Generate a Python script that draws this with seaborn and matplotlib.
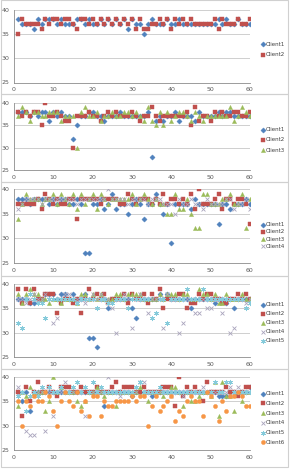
import numpy as np
import pandas as pd
import seaborn as sns
import matplotlib.pyplot as plt
from matplotlib.patches import Rectangle

sns.set_style("white")
plt.rcParams['font.family'] = ['DejaVu Sans']

X = list(range(1, 61))

P1_CLIENT1 = [38, 37, 37, 37, 36, 38, 37, 38, 38, 38, 37, 38, 37, 37, 37, 38, 38, 37, 38, 37,
              37, 38, 37, 38, 37, 38, 37, 38, 36, 38, 37, 37, 35, 37, 38, 37, 37, 37, 38, 37,
              37, 38, 37, 37, 37, 37, 37, 37, 37, 37, 37, 38, 37, 38, 37, 37, 38, 37, 37, 37]
P1_CLIENT2 = [35, 38, 37, 37, 37, 37, 36, 38, 37, 38, 38, 37, 38, 38, 37, 36, 38, 38, 37, 38,
              37, 38, 37, 38, 37, 38, 37, 38, 37, 38, 36, 38, 36, 36, 37, 37, 38, 37, 38, 36,
              38, 37, 38, 37, 38, 37, 37, 37, 37, 37, 38, 36, 38, 37, 37, 37, 38, 37, 37, 38]

P2_CLIENT1 = [38, 38, 38, 37, 38, 37, 38, 38, 36, 38, 37, 38, 37, 37, 32, 35, 37, 37, 38, 38,
              37, 37, 36, 37, 37, 37, 38, 37, 37, 37, 37, 37, 37, 38, 28, 36, 37, 36, 37, 37,
              38, 36, 37, 37, 37, 36, 38, 37, 37, 37, 37, 38, 37, 38, 38, 37, 37, 37, 37, 37]
P2_CLIENT2 = [38, 37, 38, 37, 38, 38, 35, 40, 37, 37, 38, 37, 36, 36, 30, 37, 37, 37, 38, 37,
              37, 36, 37, 38, 37, 38, 37, 37, 37, 38, 37, 36, 37, 37, 39, 37, 36, 37, 37, 37,
              37, 37, 37, 38, 35, 39, 36, 37, 37, 36, 38, 37, 38, 37, 37, 38, 38, 37, 37, 38]
P2_CLIENT3 = [37, 39, 38, 36, 38, 38, 37, 37, 38, 38, 38, 36, 37, 37, 37, 30, 38, 39, 37, 37,
              38, 36, 37, 37, 38, 37, 37, 38, 38, 37, 38, 37, 36, 39, 36, 35, 38, 35, 38, 36,
              37, 38, 38, 37, 36, 38, 37, 36, 37, 37, 37, 37, 37, 37, 39, 36, 37, 39, 38, 37]

P3_CLIENT1 = [38, 38, 38, 37, 38, 38, 38, 38, 37, 38, 37, 38, 38, 37, 37, 38, 37, 27, 27, 37,
              37, 38, 36, 37, 39, 36, 37, 37, 35, 37, 38, 37, 34, 37, 37, 39, 37, 35, 37, 29,
              37, 37, 37, 37, 36, 38, 37, 37, 37, 37, 37, 33, 37, 37, 36, 37, 37, 37, 38, 37]
P3_CLIENT2 = [37, 37, 37, 37, 37, 38, 36, 39, 38, 37, 38, 37, 37, 38, 38, 34, 38, 38, 38, 38,
              38, 37, 38, 38, 38, 38, 37, 37, 39, 38, 37, 38, 38, 38, 37, 38, 37, 39, 37, 38,
              38, 37, 38, 37, 39, 36, 40, 37, 37, 37, 38, 39, 36, 38, 38, 37, 38, 38, 37, 33]
P3_CLIENT3 = [34, 37, 39, 38, 38, 38, 37, 38, 38, 39, 37, 39, 38, 37, 39, 36, 39, 37, 38, 39,
              36, 39, 38, 37, 38, 38, 38, 38, 38, 39, 37, 38, 39, 38, 37, 38, 37, 37, 35, 35,
              39, 36, 36, 38, 35, 32, 32, 39, 39, 37, 37, 37, 38, 38, 39, 37, 37, 39, 32, 38]
P3_CLIENT4 = [36, 37, 38, 38, 38, 38, 37, 38, 38, 38, 38, 38, 38, 38, 38, 37, 38, 38, 38, 38,
              38, 38, 38, 40, 38, 38, 38, 38, 37, 38, 38, 38, 38, 37, 38, 38, 38, 37, 37, 37,
              35, 38, 37, 37, 38, 37, 37, 36, 38, 37, 37, 37, 37, 38, 38, 36, 37, 37, 38, 36]

P4_CLIENT1 = [37, 37, 37, 36, 36, 37, 37, 38, 38, 38, 37, 38, 38, 37, 38, 37, 37, 38, 29, 29,
              27, 37, 37, 35, 37, 37, 37, 37, 37, 35, 33, 37, 37, 37, 37, 37, 38, 37, 38, 37,
              37, 37, 37, 37, 35, 37, 37, 37, 37, 37, 36, 37, 37, 36, 37, 35, 37, 37, 37, 37]
P4_CLIENT2 = [39, 36, 39, 36, 39, 37, 37, 38, 38, 38, 34, 36, 37, 37, 36, 37, 34, 37, 39, 37,
              38, 37, 38, 36, 37, 37, 37, 38, 36, 38, 37, 37, 38, 36, 38, 37, 39, 35, 37, 37,
              37, 38, 38, 35, 36, 36, 38, 37, 38, 38, 37, 37, 36, 36, 37, 37, 38, 37, 38, 37]
P4_CLIENT3 = [38, 36, 38, 39, 38, 38, 37, 37, 36, 37, 37, 36, 37, 37, 37, 36, 38, 38, 37, 38,
              37, 38, 37, 37, 37, 38, 38, 37, 38, 38, 38, 38, 37, 37, 37, 37, 38, 37, 38, 38,
              38, 37, 38, 38, 37, 37, 39, 38, 38, 37, 38, 36, 36, 38, 37, 37, 37, 38, 37, 37]
P4_CLIENT4 = [37, 37, 36, 37, 38, 37, 37, 38, 37, 32, 33, 37, 38, 38, 37, 37, 37, 36, 37, 38,
              37, 38, 37, 37, 35, 30, 37, 38, 37, 31, 37, 38, 37, 34, 37, 37, 37, 31, 38, 37,
              37, 30, 32, 37, 37, 34, 34, 37, 35, 35, 37, 37, 34, 37, 30, 31, 37, 37, 36, 37]
P4_CLIENT5 = [32, 31, 37, 38, 37, 36, 36, 33, 37, 37, 37, 37, 37, 37, 37, 36, 37, 37, 37, 37,
              35, 37, 37, 36, 36, 37, 37, 37, 35, 37, 37, 37, 37, 37, 33, 34, 37, 37, 32, 37,
              37, 37, 37, 39, 37, 37, 37, 39, 37, 37, 37, 37, 37, 37, 37, 37, 37, 37, 35, 36]

P5_CLIENT1 = [37, 35, 37, 33, 37, 37, 37, 37, 37, 37, 37, 37, 37, 37, 37, 37, 37, 37, 37, 37,
              37, 37, 34, 37, 37, 37, 37, 37, 37, 36, 37, 37, 37, 37, 36, 37, 37, 37, 37, 37,
              37, 37, 37, 37, 37, 37, 37, 37, 37, 37, 37, 36, 36, 36, 37, 37, 37, 37, 37, 38]
P5_CLIENT2 = [37, 32, 38, 35, 37, 39, 37, 37, 38, 37, 36, 38, 38, 38, 37, 37, 38, 37, 37, 37,
              38, 37, 37, 37, 38, 39, 37, 38, 38, 38, 37, 37, 38, 37, 37, 37, 37, 38, 38, 38,
              34, 40, 36, 38, 37, 38, 37, 35, 39, 37, 37, 37, 37, 38, 37, 37, 36, 37, 38, 38]
P5_CLIENT3 = [34, 37, 36, 38, 37, 37, 37, 33, 35, 40, 37, 38, 37, 37, 37, 35, 34, 35, 37, 37,
              38, 37, 36, 37, 37, 34, 37, 37, 37, 37, 37, 38, 37, 35, 37, 37, 37, 36, 37, 38,
              38, 37, 34, 37, 35, 35, 36, 37, 37, 36, 39, 32, 39, 36, 36, 33, 37, 35, 37, 37]
P5_CLIENT4 = [38, 37, 29, 28, 28, 37, 37, 29, 37, 32, 37, 37, 39, 37, 37, 37, 37, 32, 37, 37,
              37, 37, 37, 40, 37, 37, 36, 37, 37, 37, 37, 39, 39, 37, 37, 37, 37, 37, 37, 36,
              37, 37, 36, 37, 37, 37, 37, 38, 37, 37, 37, 37, 37, 37, 38, 37, 38, 37, 37, 37]
P5_CLIENT5 = [36, 37, 33, 36, 37, 36, 38, 37, 38, 37, 37, 38, 37, 37, 38, 39, 37, 38, 37, 39,
              37, 38, 37, 37, 37, 37, 37, 37, 37, 37, 38, 39, 37, 37, 37, 37, 38, 37, 37, 37,
              37, 37, 37, 37, 37, 37, 37, 37, 37, 37, 39, 37, 37, 39, 39, 37, 37, 37, 37, 37]
P5_CLIENT6 = [35, 30, 35, 34, 36, 35, 35, 37, 36, 33, 30, 35, 37, 35, 34, 37, 33, 35, 32, 36,
              36, 32, 35, 34, 34, 35, 35, 35, 35, 36, 35, 36, 36, 30, 34, 36, 33, 34, 35, 36,
              31, 33, 32, 35, 36, 35, 35, 32, 37, 36, 34, 31, 35, 33, 36, 36, 37, 36, 34, 34]

PANELS = [
    [P1_CLIENT1, P1_CLIENT2],
    [P2_CLIENT1, P2_CLIENT2, P2_CLIENT3],
    [P3_CLIENT1, P3_CLIENT2, P3_CLIENT3, P3_CLIENT4],
    [P4_CLIENT1, P4_CLIENT2, P4_CLIENT3, P4_CLIENT4, P4_CLIENT5],
    [P5_CLIENT1, P5_CLIENT2, P5_CLIENT3, P5_CLIENT4, P5_CLIENT5, P5_CLIENT6],
]

STYLES = [
    ('D', '#4f81bd', 7),
    ('s', '#c0504d', 9),
    ('^', '#9bbb59', 9),
    ('x', '#a9a4bc', 8),
    ((6, 2, 0), '#86cbdb', 10),
    ('o', '#f79646', 9),
]

W, H = 290, 471
# pixel geometry: (axes top, axes bottom, frame top, frame bottom, legend centre, label spacing)
LAYOUT = [
    (9.5, 82.5, 0, 94, 49.5, 1.0),
    (103, 170, 94, 182, 140, 0.95),
    (189, 263, 182, 276, 235.5, 0.4),
    (284, 357, 276, 369, 322.7, 0.7),
    (377, 450, 369, 467, 418, 0.85),
]

fig = plt.figure(figsize=(W / 100, H / 100), dpi=100)

for series, (top, bot, ftop, fbot, leg_y, lsp) in zip(PANELS, LAYOUT):
    fig.add_artist(Rectangle((1 / W, 1 - fbot / H), 287 / W, (fbot - ftop) / H,
                             transform=fig.transFigure, fill=False,
                             edgecolor='#d0d0d0', linewidth=0.8))
    ax = fig.add_axes([14 / W, 1 - bot / H, 236 / W, (bot - top) / H])
    for i, vals in enumerate(series):
        marker, color, size = STYLES[i]
        df = pd.DataFrame({'x': X, 'y': vals})
        kw = dict(edgecolor=color, linewidth=0.3)
        if marker == 'x' or isinstance(marker, tuple):
            kw = dict(linewidth=0.6)
        sns.scatterplot(data=df, x='x', y='y', marker=marker, color=color, s=size,
                        ax=ax, label=f'Client{i + 1}', zorder=3, **kw)
    ax.set_xlim(0, 60)
    ax.set_ylim(25, 40)
    ax.set_xticks(range(0, 61, 10))
    ax.set_yticks(range(25, 41, 5))
    ax.set_xlabel('')
    ax.set_ylabel('')
    ax.grid(axis='y', color='#c8c8c8', linewidth=0.6)
    ax.grid(axis='x', visible=False)
    for side in ['top', 'right']:
        ax.spines[side].set_visible(False)
    for side in ['left', 'bottom']:
        ax.spines[side].set_color('#8c8c8c')
        ax.spines[side].set_linewidth(0.6)
    ax.tick_params(labelsize=4.5, colors='#8c8c8c', labelcolor='#595959',
                   length=2, width=0.5, pad=1.5)
    ax.legend(loc='center left', bbox_to_anchor=(258 / W, 1 - leg_y / H),
              bbox_transform=fig.transFigure, frameon=False, fontsize=4,
              handletextpad=0.1, handlelength=0.8, labelspacing=lsp,
              borderpad=0, labelcolor='#404040')

fig.savefig('out.png', dpi=100)
